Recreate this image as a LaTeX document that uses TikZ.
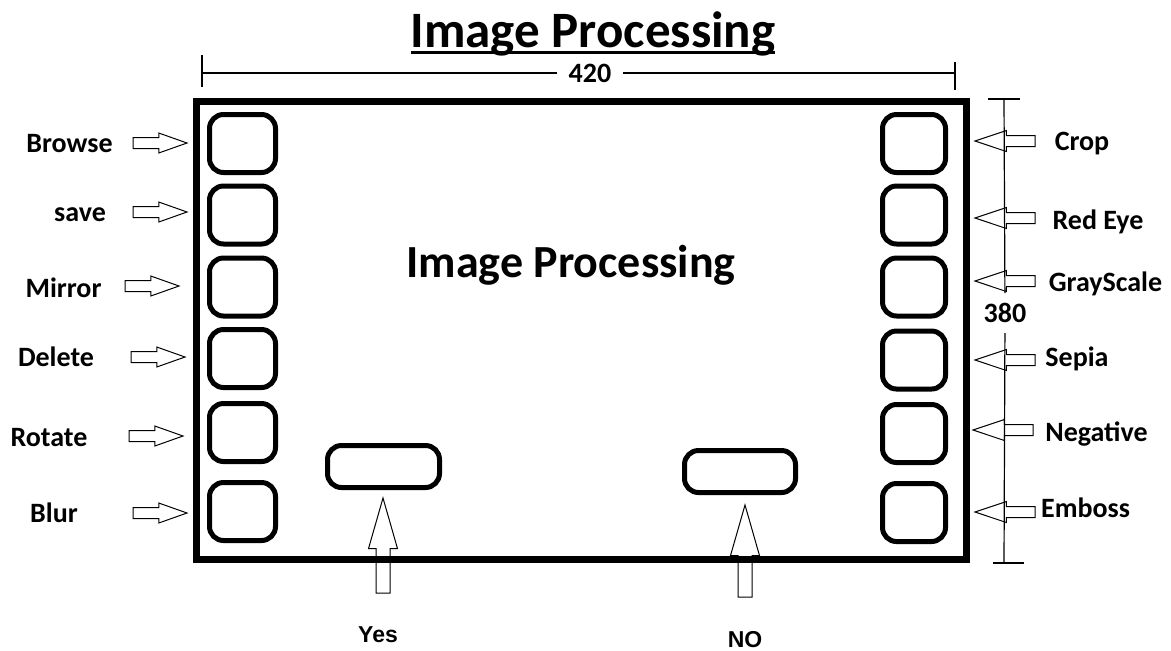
\documentclass[tikz,border=0pt]{standalone}
\usepackage{fontspec}
\setmainfont{Carlito}
\newfontfamily\arialfont{Liberation Sans}
\usetikzlibrary{shapes.arrows}

\begin{document}
\begin{tikzpicture}[x=0.5pt,y=-0.5pt,every node/.style={inner sep=0pt, outer sep=0pt, font=\bfseries\fontsize{14}{16}\selectfont},
  lbl/.style={text height=9pt, text depth=0pt},
  answer/.style={anchor=base, font=\arialfont\bfseries\fontsize{11.5}{14}\selectfont},
  btn/.style={draw, line width=2.5pt, rounded corners=7pt, minimum width=33pt, minimum height=29pt},
  rbtn/.style={btn, minimum width=31.5pt},
  wbtn/.style={btn, minimum width=56pt, minimum height=21pt},
  harrow/.style={draw, line width=0.5pt, single arrow, single arrow head indent=0pt, inner ysep=2.5pt, minimum width=0pt, anchor=tip},
  inarrow/.style={harrow, minimum height=27pt, single arrow head extend=2.25pt, single arrow tip angle=39},
  outarrow/.style={harrow, rotate=180, minimum height=30pt, single arrow head extend=2.5pt, single arrow tip angle=37},
  uparrow/.style={harrow, rotate=90, inner ysep=3.25pt, single arrow head extend=3.75pt, single arrow tip angle=32},
  dim/.style={line width=0.6pt}]

\useasboundingbox (0,0) rectangle (1171,650);

\node[anchor=base, font=\bfseries\fontsize{25.5}{30}\selectfont] (title) at (593,47) {Image Processing};
\draw[line width=1.5pt] ([yshift=-2.5pt]title.base west) -- ([yshift=-2.5pt]title.base east);

\coordinate (wL) at (202,73);
\coordinate (wR) at (955,73);
\node[lbl, inner xsep=6pt] (w420) at (590,73) {420};
\draw[dim] (wL) -- (w420) -- (wR);
\draw[dim] ([yshift=9pt]wL) -- ([yshift=-7pt]wL);
\draw[dim] ([yshift=5.5pt]wR) -- ([yshift=-8.5pt]wR);

\node[draw, line width=3.5pt, minimum width=385pt, minimum height=229pt] (frame) at (581,330) {};
\node[anchor=base, font=\bfseries\fontsize{23}{28}\selectfont] (caption) at (571,277) {Image Processing};

\node[btn] (bBrowse) at (242.5,143.5) {};
\node[btn] (bSave)   at (242.5,215) {};
\node[btn] (bMirror) at (242.5,287) {};
\node[btn] (bDelete) at (242.5,358.5) {};
\node[btn] (bRotate) at (242.5,432.5) {};
\node[btn] (bBlur)   at (242.5,511.5) {};

\node[lbl] (lBrowse) at (69.5,143) {Browse};
\node[lbl] (lSave)   at (80,212) {save};
\node[lbl] (lMirror) at (63.5,288) {Mirror};
\node[lbl] (lDelete) at (56,357) {Delete};
\node[lbl] (lRotate) at (49,437) {Rotate};
\node[lbl] (lBlur)   at (54,513) {Blur};

\node[inarrow] (aBrowse) at (187,143) {};
\node[inarrow] (aSave)   at (187,212) {};
\node[inarrow] (aMirror) at (179,286) {};
\node[inarrow] (aDelete) at (185,357) {};
\node[inarrow] (aRotate) at (183,436) {};
\node[inarrow] (aBlur)   at (187,513) {};

\node[rbtn] (bCrop)      at (914,143.5) {};
\node[rbtn] (bRedEye)    at (914,215) {};
\node[rbtn] (bGrayScale) at (914,287) {};
\node[rbtn] (bSepia)     at (914,360) {};
\node[rbtn] (bNegative)  at (914,433.5) {};
\node[rbtn] (bEmboss)    at (914,512.5) {};

\coordinate (hT) at (1004,99);
\coordinate (hB) at (1004,563);
\node[lbl, inner ysep=5.5pt] (h380) at (1005,313) {380};
\draw[dim] (hT) -- (h380) -- (hB);
\draw[dim] ([xshift=-8pt]hT) -- ([xshift=8pt]hT);
\draw[dim] ([xshift=-5.5pt]hB) -- ([xshift=10pt]hB);

\node[outarrow] (aCrop)      at (975,141) {};
\node[outarrow] (aRedEye)    at (975,218) {};
\node[outarrow] (aGrayScale) at (975,281) {};
\node[outarrow] (aSepia)     at (975,360) {};
\node[outarrow] (aNegative)  at (973,430) {};
\node[outarrow] (aEmboss)    at (975,512) {};

\node[lbl] (lCrop)      at (1082,141) {Crop};
\node[lbl] (lRedEye)    at (1098,220) {Red Eye};
\node[lbl] (lGrayScale) at (1105.5,282) {GrayScale};
\node[lbl] (lSepia)     at (1077,357) {Sepia};
\node[lbl] (lNegative)  at (1096.5,432) {Negative};
\node[lbl] (lEmboss)    at (1085.5,508) {Emboss};

\node[wbtn] (bYes) at (383.5,466.5) {};
\node[wbtn, minimum width=55.5pt] (bNo) at (740,471.5) {};

\node[uparrow, minimum height=47.5pt] (aYes) at (383,498) {};
\node[uparrow, minimum height=46pt]   (aNo)  at (745,505) {};

\node[answer] (lYes) at (378,642) {Yes};
\node[answer] (lNo)  at (745,647) {NO};

\end{tikzpicture}
\end{document}
